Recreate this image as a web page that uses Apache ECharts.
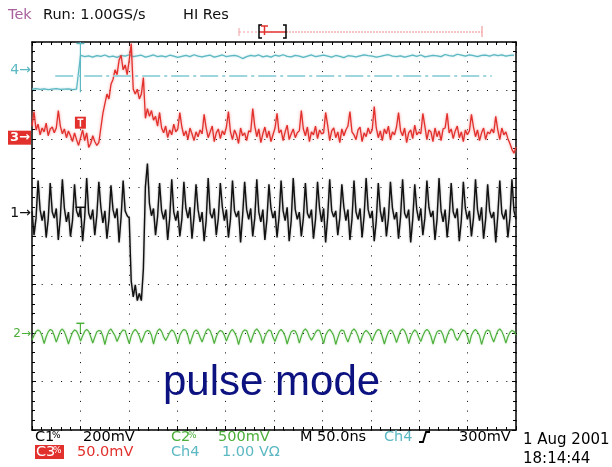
<!DOCTYPE html>
<html><head><meta charset="utf-8">
<script src="https://cdn.jsdelivr.net/npm/echarts@6/dist/echarts.min.js"></script>
<style>html,body{margin:0;padding:0;background:#fff}#c{width:612px;height:467px}</style>
</head><body><div id="c"></div>
<script>
// ---- acquisition settings ----
const timeMinNs = 0, timeMaxNs = 500, nsPerDiv = 50;
const sampleStepNs = 500 / 239;        // ch1..ch3 sample spacing
const ch4StepNs = 2 * sampleStepNs;    // ch4 sample spacing
const trigTimeNs = 50;
const trigLevelMv = -105;              // trigger-level marker, relative to ch4 ground
const trigLineStartNs = 24, trigLineEndNs = 475;

// channel scales (mV/div) and ground-marker positions (div from centre)
const ch1Scale = 200, ch2Scale = 500, ch3Scale = 50, ch4Scale = 1000;
const ch1Pos = 0.468, ch2Pos = -2.027, ch3Pos = 2.027, ch4Pos = 3.408;

// ---- Ch1 (black) mV ----
const ch1Mv = [
 10, -90, -20,
 135, 15, -30, 10, -100, -25,
 125, 5, -20, 20, -110, -15,
 140, 20, -35, 5, -95, -30,
 120, 10, -15, 25, -115, -20,
 145, 0, -25, 15, -90, -10,
 130, 25, -40, 10, -105, -25,
 115, 15, -20, 20, -120, -15,
 135, 10, -10, -20, -280, -345,
 -295, -360, -330, -360, -230, 110,
 205, 40, -10, 20, -90, -15,
 125, 10, -25, 15, -110, -20,
 140, 5, -30, 10, -95, -25,
 130, 20, -20, 25, -105, -15,
 120, 15, -35, 5, -115, -30,
 145, 0, -20, 20, -90, -20,
 125, 25, -30, 15, -100, -25,
 135, 10, -15, 10, -120, -10,
 130, 15, -25, 20, -95, -20,
 140, 5, -35, 15, -110, -25,
 120, 20, -20, 10, -100, -15,
 135, 10, -30, 25, -115, -30,
 145, 15, -25, 5, -95, -20,
 125, 0, -20, 15, -105, -25,
 130, 20, -35, 20, -120, -15,
 140, 10, -15, 10, -90, -20,
 120, 25, -30, 15, -110, -25,
 135, 5, -25, 20, -100, -10,
 145, 15, -20, 10, -115, -30,
 125, 10, -35, 25, -95, -20,
 130, 20, -25, 5, -105, -15,
 140, 0, -20, 15, -120, -25,
 120, 15, -30, 20, -90, -20,
 135, 25, -15, 10, -110, -25,
 145, 10, -35, 15, -100, -15,
 125, 5, -20, 20, -115, -30,
 130, 20, -25, 10, -95, -20,
 140, 15, -30, 25, -105, -25,
 120, 10, -20, 5, -120, -10,
 135, 0, -25, 15, -100, -20,
 140, 10, -25
];

// ---- Ch2 (green) mV ----
const ch2Mv = [
 -60, -10, 30, 45, 30, -20,
 -95, -25, 25, 50, 40, -15,
 -80, -20, 35, 55, 25, -30,
 -100, -35, 20, 45, 35, -10,
 -70, -15, 30, 50, 30, -25,
 -90, -30, 25, 40, 35, -20,
 -105, -20, 35, 55, 20, -15,
 -75, -25, 20, 45, 40, -30,
 -95, -15, 30, 50, 25, -20,
 -85, -30, 25, 40, 35, -10,
 -100, -20, 35, 55, 30, -25,
 -65, -25, 20, 45, 30, -20,
 -90, -10, 30, 50, 40, -15,
 -100, -35, 25, 45, 25, -30,
 -80, -20, 35, 55, 35, -20,
 -95, -25, 20, 40, 30, -10,
 -70, -15, 30, 50, 20, -25,
 -105, -30, 25, 45, 40, -20,
 -85, -20, 35, 55, 30, -15,
 -95, -25, 20, 45, 35, -30,
 -75, -15, 30, 50, 25, -20,
 -100, -30, 25, 40, 35, -10,
 -90, -20, 35, 55, 30, -25,
 -60, -25, 20, 45, 40, -20,
 -95, -10, 30, 50, 25, -15,
 -105, -35, 25, 45, 35, -30,
 -80, -20, 35, 55, 30, -20,
 -90, -25, 20, 40, 20, -10,
 -70, -15, 30, 50, 40, -25,
 -100, -30, 25, 45, 30, -20,
 -85, -20, 35, 55, 35, -15,
 -95, -25, 20, 45, 25, -30,
 -75, -15, 30, 50, 30, -20,
 -100, -30, 25, 40, 35, -10,
 -90, -20, 35, 55, 40, -25,
 -65, -25, 20, 45, 30, -20,
 -95, -10, 30, 50, 25, -15,
 -105, -35, 25, 45, 35, -30,
 -80, -20, 35, 55, 30, -20,
 -90, -25, 20, 40, 30, -5
];

// ---- Ch3 (red) mV ----
const ch3Mv = [
 12, 27, 8, 14, 3, 10, 6, 15, 2, 9, 11, 5,
 10, 28, 12, 4, 9, 0, 7, 2, -4, 5, -2, -8,
 0, 8, -3, 5, -10, -6, 2, -4, -8, -5, 10, 25,
 35, 45, 40, 55, 60, 70, 65, 80, 85, 70, 75, 65,
 80, 97, 50, 45, 50, 40, 45, 62, 20, 30, 22, 28,
 18, 22, 12, 26, 10, 5, 12, 0, 8, 3, 14, 6,
 9, 26, 11, 2, 7, -2, 10, 4, -3, 6, 1, 8,
 4, 24, 10, 0, 6, 12, -4, 5, 9, -1, 7, 3,
 11, 27, 6, -2, 8, 3, -6, 10, 2, 5, -3, 7,
 6, 30, 12, 1, 9, -5, 4, 11, 0, 7, -4, 3,
 10, 25, 5, 8, -3, 6, 13, -2, 4, 9, 0, 5,
 7, 28, 9, 2, 11, -4, 6, 3, 12, -1, 8, 4,
 5, 26, 13, -3, 7, 10, 0, 6, -5, 9, 2, 8,
 12, 27, 6, 3, -2, 8, 11, -4, 5, 1, 10, 4,
 8, 32, 10, 0, 7, -3, 9, 4, 12, -2, 6, 3,
 11, 26, 7, 2, 10, -5, 5, 8, -1, 13, 3, 6,
 4, 25, 12, -2, 8, 6, -4, 10, 1, 7, -3, 9,
 10, 25, 5, 9, -1, 7, 12, 0, 6, -4, 8, 3,
 7, 24, 11, 1, 8, -3, 5, 10, -2, 6, 4, 9,
 5, 22, 8, -2, 10, 3, 6, -1, -6, -12, -16, -10
];

// ---- Ch4 (cyan) mV ----
const ch4Mv = [
 -380, -370, -385, -375, -390, -380, -370, -385, -380, -375, -390, -380,
 320, 290, 305, 280, 310, 295, 325, 285, 300, 275,
 315, 300, 330, 290, 305, 320, 280, 300, 325, 290,
 305, 285, 320, 300, 275, 295, 315, 290, 330, 300,
 285, 305, 320, 280, 300, 325, 290, 305, 315, 295,
 250, 290, 315, 300, 325, 285, 305, 280, 320, 300,
 330, 295, 285, 315, 300, 275, 300, 325, 290, 305,
 320, 300, 280, 315, 295, 270, 310, 300, 285, 305,
 325, 310, 300, 280, 295, 315, 330, 300, 290, 305,
 280, 300, 320, 295, 325, 285, 300, 315, 305, 290,
 335, 310, 300, 340, 320, 300, 325, 310, 290, 315,
 320, 300, 330, 310, 325, 300, 315, 320
];

// ---- screen texts ----
const headerTexts = ['Tek', 'Run: 1.00GS/s', 'HI Res'];
const row1Texts = ['C1', '200mV', 'C2', '500mV', 'M 50.0ns', 'Ch4', '300mV'];
const row2Texts = ['C3', '50.0mV', 'Ch4', '1.00 V\u03A9'];
const dateTexts = ['1 Aug 2001', '18:14:44'];
const noteText = 'pulse mode';

const COL = { c1: '#111111', c2: '#4caf3a', c3: '#e2302c', c4: '#5cb8c2', c4lite: '#9fd6de', tek: '#a8609c', navy: '#0c1280' };
const FONT = 'DejaVu Sans';

function toSeries(arr, step, pos, scale) {
  return arr.map((v, i) => [i * step, pos + v / scale]);
}

const chart = echarts.init(document.getElementById('c'), null, { renderer: 'canvas' });

function xAx(position, split) {
  return {
    type: 'value', min: timeMinNs, max: timeMaxNs, interval: nsPerDiv, position,
    axisLine: { show: true, onZero: false, lineStyle: { color: '#000', width: 1.5 } },
    axisTick: { show: true, inside: true, length: 4, lineStyle: { color: '#000', width: 1 } },
    minorTick: { show: true, splitNumber: 5, length: 3, lineStyle: { color: '#000', width: 1 } },
    axisLabel: { show: false },
    splitLine: { show: split, lineStyle: { color: '#000', width: 1, type: [1, 8.7] } }
  };
}
function yAx(position, split) {
  return {
    type: 'value', min: -4, max: 4, interval: 1, position,
    axisLine: { show: true, onZero: false, lineStyle: { color: '#000', width: 1.5 } },
    axisTick: { show: true, inside: true, length: 4, lineStyle: { color: '#000', width: 1 } },
    minorTick: { show: true, splitNumber: 5, length: 3, lineStyle: { color: '#000', width: 1 } },
    axisLabel: { show: false },
    splitLine: { show: split, lineStyle: { color: '#000', width: 1, type: [1, 8.68] } }
  };
}

function lineSeries(name, data, lineStyle, z, extra) {
  return Object.assign({
    name, type: 'line', data, xAxisIndex: 0, yAxisIndex: 0,
    showSymbol: false, symbol: 'none', smooth: false, z,
    lineStyle, animation: false, silent: true
  }, extra || {});
}

chart.setOption({
  animation: false,
  backgroundColor: '#fff',
  grid: { left: 32, top: 42, width: 484, height: 388, containLabel: false },
  xAxis: [xAx('bottom', true), xAx('top', false)],
  yAxis: [yAx('left', true), yAx('right', false)],
  series: [
    lineSeries('Ch4', toSeries(ch4Mv, ch4StepNs, ch4Pos, ch4Scale),
      { color: COL.c4, width: 1.2, shadowColor: 'rgba(92,184,194,0.5)', shadowBlur: 2 }, 3, {
      markLine: {
        silent: true, symbol: ['none', 'none'], label: { show: false }, animation: false,
        lineStyle: { color: COL.c4lite, width: 2, type: [18, 4, 3, 4] },
        data: [[{ coord: [trigLineStartNs, ch4Pos + trigLevelMv / ch4Scale] },
                { coord: [trigLineEndNs, ch4Pos + trigLevelMv / ch4Scale] }]]
      }
    }),
    lineSeries('Ch3', toSeries(ch3Mv, sampleStepNs, ch3Pos, ch3Scale),
      { color: COL.c3, width: 1.3, shadowColor: 'rgba(240,120,120,0.8)', shadowBlur: 3 }, 4),
    lineSeries('Ch1', toSeries(ch1Mv, sampleStepNs, ch1Pos, ch1Scale),
      { color: COL.c1, width: 1.4, shadowColor: 'rgba(90,90,90,0.6)', shadowBlur: 2 }, 5),
    lineSeries('Ch2', toSeries(ch2Mv, sampleStepNs, ch2Pos, ch2Scale),
      { color: COL.c2, width: 1.1, shadowColor: 'rgba(120,200,110,0.6)', shadowBlur: 2 }, 4)
  ]
});

// ---- annotations positioned through the chart's scales ----
const px = (t, v) => chart.convertToPixel({ xAxisIndex: 0, yAxisIndex: 0 }, [t, v]);
const tx = px(trigTimeNs, 0)[0];
const yOf = v => px(0, v)[1];
const y4 = yOf(ch4Pos), y3 = yOf(ch3Pos), y1 = yOf(ch1Pos), y2 = yOf(ch2Pos);
const yTop = yOf(4);
const y4low = yOf(ch4Pos + ch4Mv[0] / ch4Scale);

function txt(text, x, y, fill, size, opts) {
  return {
    type: 'text', z: 100, silent: true,
    style: Object.assign({ text, x, y, fill, font: (size || 14.5) + 'px "' + FONT + '"', textAlign: 'left', textVerticalAlign: 'middle' }, (opts && opts.style) || {})
  };
}
function ln(x1, y1, x2, y2, stroke, w, dash) {
  return { type: 'line', z: 100, silent: true, shape: { x1, y1, x2, y2 }, style: { stroke, lineWidth: w || 1, lineDash: dash || null } };
}
function poly(points, stroke, w) {
  return { type: 'polyline', z: 100, silent: true, shape: { points }, style: { stroke, lineWidth: w || 1, fill: null } };
}
function rect(x, y, width, height, fill) {
  return { type: 'rect', z: 99, silent: true, shape: { x, y, width, height }, style: { fill } };
}

const g = [];
// header
g.push(txt(headerTexts[0], 8, 15, COL.tek, 14.5));
g.push(txt(headerTexts[1], 43, 15, '#111', 14.5));
g.push(txt(headerTexts[2], 183, 15, '#111', 14.5));

// record-length bar
g.push(ln(239, 32, 259, 32, '#f2a0a0', 1, [2, 2]));
g.push(ln(239, 28, 239, 36, '#f2a0a0', 1));
g.push(ln(259, 32, 286, 32, COL.c3, 1.5));
g.push(ln(286, 32, 482, 32, '#ee8a8a', 1, [2, 1]));
g.push(ln(482, 26, 482, 37, '#ee8a8a', 1));
g.push(poly([[262, 25], [259, 25], [259, 38], [262, 38]], '#000', 1.5));
g.push(poly([[283, 25], [286, 25], [286, 38], [283, 38]], '#000', 1.5));
g.push(ln(261, 26, 268, 26, COL.c3, 1.5));
g.push(ln(264.5, 26, 264.5, 35, COL.c3, 1.5));

// channel ground markers
g.push(txt('4\u2192', 31, y4, COL.c4, 14, { style: { textAlign: 'right' } }));
g.push(rect(8, y3 - 7, 23, 14, COL.c3));
g.push(txt('3\u2192', 30, y3, '#fff', 13, { style: { textAlign: 'right', font: 'bold 13px "' + FONT + '"' } }));
g.push(txt('1\u2192', 31, y1, '#111', 14, { style: { textAlign: 'right' } }));
g.push(txt('2\u2192', 31, y2, COL.c2, 12, { style: { textAlign: 'right' } }));

// trigger-position "T" markers
g.push(ln(tx, yTop, tx, y4low + 3, COL.c4, 1.2));
g.push(ln(tx - 4, yTop + 1.5, tx + 4, yTop + 1.5, COL.c4, 1.5));
g.push(rect(tx - 5.5, y3 - 21, 11, 12, COL.c3));
g.push(ln(tx - 3, y3 - 18.5, tx + 3, y3 - 18.5, '#fff', 1.5));
g.push(ln(tx, y3 - 18.5, tx, y3 - 11, '#fff', 1.5));
g.push(ln(tx - 5, y1 - 6, tx + 5, y1 - 6, '#111', 1.5));
g.push(ln(tx, y1 - 6, tx, y1 + 4, '#111', 1.2));
g.push(ln(tx - 4, y2 - 11, tx + 4, y2 - 11, COL.c2, 1.5));
g.push(ln(tx, y2 - 11, tx, y2 - 1, COL.c2, 1.2));

// bottom readouts
const r1 = 437, r2 = 452;
g.push(txt(row1Texts[0], 35, r1, '#000'));
g.push(txt('%', 52, r1 - 1, '#000', 9));
g.push(txt(row1Texts[1], 83, r1, '#000'));
g.push(txt(row1Texts[2], 171, r1, COL.c2));
g.push(txt('%', 188, r1 - 1, COL.c2, 9));
g.push(txt(row1Texts[3], 218, r1, COL.c2));
g.push(txt(row1Texts[4], 300, r1, '#000'));
g.push(txt(row1Texts[5], 384, r1, COL.c4));
g.push(poly([[419, 442], [423, 442], [426, 432], [430, 432]], '#000', 1.8));
g.push(txt(row1Texts[6], 459, r1, '#000'));

g.push(rect(35, 445, 29, 14, COL.c3));
g.push(txt(row2Texts[0], 36, r2, '#fff'));
g.push(txt('%', 53, r2 - 1, '#fff', 9));
g.push(txt(row2Texts[1], 77, r2, COL.c3));
g.push(txt(row2Texts[2], 171, r2, COL.c4));
g.push(txt(row2Texts[3], 222, r2, COL.c4));

g.push(txt(dateTexts[0], 523, 440, '#000', 15));
g.push(txt(dateTexts[1], 523, 459, '#000', 15));

// overlay caption
g.push({ type: 'text', z: 120, silent: true,
  style: { text: noteText, x: 163, y: 383, fill: COL.navy, font: '42px "Liberation Sans", Arial, sans-serif', textAlign: 'left', textVerticalAlign: 'middle' } });

chart.setOption({ graphic: g });
</script>
</body></html>
